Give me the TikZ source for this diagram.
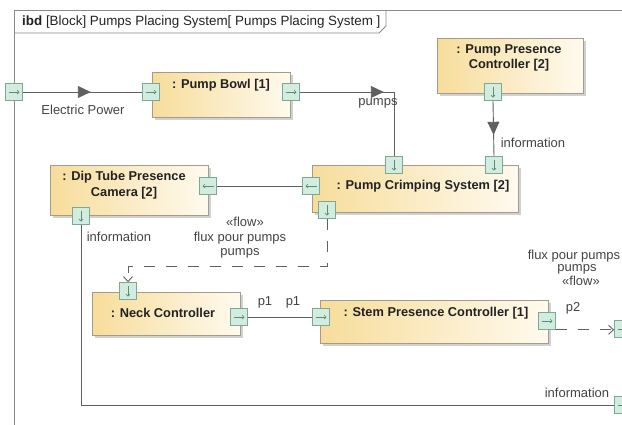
\documentclass[tikz,border=0pt]{standalone}
\usepackage{fontspec}
\setmainfont{Liberation Sans}
\usetikzlibrary{arrows.meta,shadows,decorations.markings}
\definecolor{blockY}{HTML}{F7DD9B}
\definecolor{blockW}{HTML}{FFFAEE}
\definecolor{blockB}{HTML}{A39C8A}
\definecolor{portF}{HTML}{D2ECDF}
\definecolor{portB}{HTML}{7DA993}
\definecolor{portG}{HTML}{5E8A78}
\definecolor{lineC}{HTML}{606060}
\definecolor{frameC}{HTML}{8A8A8A}
\definecolor{txt}{HTML}{222222}
\newcommand{\pglyph}[2]{\draw[glyph] ([shift={(#2+180:5.5pt)}]#1.center) -- ([shift={(#2:5.5pt)}]#1.center);}
\begin{document}
\begin{tikzpicture}[x=1pt,y=-1pt,
 block/.style={rectangle, draw=blockB, line width=0.7pt, left color=blockY, right color=blockW, drop shadow={shadow xshift=3pt, shadow yshift=-3pt, fill=black!30, opacity=0.6}, inner sep=0},
 title/.style={font=\fontsize{12.8}{15.5}\selectfont\bfseries, text=txt, align=center, inner sep=0},
 lbl/.style={font=\fontsize{13}{14}\selectfont, text=txt!85, inner sep=0, align=center},
 port/.style={rectangle, draw=portB, fill=portF, line width=0.6pt, minimum width=17pt, minimum height=17pt, inner sep=0},
 glyph/.style={draw=portG, line width=0.6pt, -{Straight Barb[length=2pt,width=4pt]}},
 conn/.style={draw=lineC, color=lineC, line width=0.9pt},
 flowc/.style={draw=lineC, color=lineC, line width=0.9pt, dash pattern=on 11pt off 11pt},
 midarrow/.style={postaction={decorate, decoration={markings, mark=at position #1 with {\arrow{Triangle[length=13pt,width=12pt]}}}}},
 openhead/.style={-{Straight Barb[length=5pt,width=9pt]}}
]
\useasboundingbox (0,0) rectangle (622,424);
\begin{scope}
\clip (0,0) rectangle (622,424);
% frame
\draw[frameC, line width=0.9pt] (14,10) rectangle (623,440);
\draw[frameC, line width=0.8pt] (14,33) -- (379,33) -- (386,26) -- (386,10);
\node[anchor=west, font=\fontsize{13.4}{15}\selectfont, text=txt, inner sep=0] (hdr) at (22,22) {\textbf{ibd} [Block] Pumps Placing System[ Pumps Placing System ]};

% blocks
\node[block, minimum width=138pt, minimum height=45pt] (bowl) at (221,94.5) {};
\node[block, minimum width=146pt, minimum height=55pt] (ppc) at (510,65.5) {};
\node[block, minimum width=206pt, minimum height=47pt] (pcs) at (415,188.5) {};
\node[block, minimum width=158pt, minimum height=50pt] (dip) at (129,190) {};
\node[block, minimum width=148pt, minimum height=43pt] (neck) at (166,313.5) {};
\node[block, minimum width=228pt, minimum height=43pt] (stem) at (434,321.5) {};

\node[title] (bowlT) at (221,85) {: Pump Bowl [1]};
\node[title] (ppcT) at (509,58) {: Pump Presence\\Controller [2]};
\node[title] (pcsT) at (423,186) {: Pump Crimping System [2]};
\node[title] (dipT) at (124,185) {: Dip Tube Presence\\Camera [2]};
\node[title] (neckT0) at (163,313) {: Neck Controller};
\node[title] (stemT) at (436,313) {: Stem Presence Controller [1]};

% ports
\node[port] (fl) at (14,92) {}; \pglyph{fl}{0}
\node[port] (bowlL) at (151,92) {}; \pglyph{bowlL}{0}
\node[port] (bowlR) at (291,92) {}; \pglyph{bowlR}{0}
\node[port] (ppcB) at (493,92) {}; \pglyph{ppcB}{-90}
\node[port] (pcsT1) at (394,165) {}; \pglyph{pcsT1}{-90}
\node[port] (pcsT2) at (494,165) {}; \pglyph{pcsT2}{-90}
\node[port] (pcsL) at (311,186) {}; \pglyph{pcsL}{180}
\node[port] (pcsB) at (327,210) {}; \pglyph{pcsB}{-90}
\node[port] (dipR) at (208,186) {}; \pglyph{dipR}{180}
\node[port] (dipB) at (81,216) {}; \pglyph{dipB}{-90}
\node[port] (neckT) at (128,291) {}; \pglyph{neckT}{-90}
\node[port] (neckR) at (239,317) {}; \pglyph{neckR}{0}
\node[port] (stemL) at (321,317) {}; \pglyph{stemL}{0}
\node[port] (stemR) at (547,321) {}; \pglyph{stemR}{0}
\node[port] (fr1) at (623,329) {}; \pglyph{fr1}{0}
\node[port] (fr2) at (623,405) {}; \pglyph{fr2}{0}

% connectors
\draw[conn, midarrow=68pt] (fl.east) -- (bowlL.west);
\draw[conn, midarrow=84pt] (bowlR.east) -| (pcsT1.north);
\draw[conn, midarrow=34pt] (ppcB.south) -- (pcsT2.north);
\draw[conn] (dipR.east) -- (pcsL.west);
\draw[conn] (neckR.east) -- (stemL.west);
\draw[conn] (dipB.south) |- (fr2.west);
\draw[flowc, openhead] (pcsB.south) -- ++(0,48) -| (neckT.north);
\draw[flowc, openhead] (stemR.south east) -- (stemR.south east -| fr1.west);

% labels
\node[lbl] (l1) at (83,110) {Electric Power};
\node[lbl] (l2) at (378,103) {pumps};
\node[lbl] (l3) at (533,143) {information};
\node[lbl] (l4) at (119,237) {information};
\node[lbl] (l5) at (245,222) {«flow»};
\node[lbl] (l6) at (240,238) {flux pour pumps};
\node[lbl] (l7) at (240,253) {pumps};
\node[lbl] (l8) at (265,302) {p1};
\node[lbl] (l9) at (293,302) {p1};
\node[lbl] (l10) at (573,308) {p2};
\node[lbl] (l11) at (574,256) {flux pour pumps};
\node[lbl] (l12) at (577,269) {pumps};
\node[lbl] (l13) at (581,281) {«flow»};
\node[lbl] (l14) at (577,393) {information};
\end{scope}
\end{tikzpicture}
\end{document}
